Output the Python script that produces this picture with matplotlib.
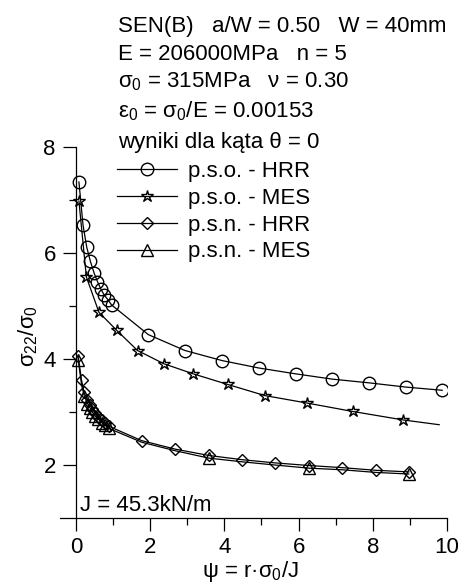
import matplotlib.pyplot as plt
from matplotlib.lines import Line2D

plt.rcParams['font.family'] = ['Liberation Sans', 'DejaVu Sans']
plt.rcParams['mathtext.default'] = 'regular'

# p.s.o. - HRR
pso_hrr_x = [0.08, 0.19, 0.29, 0.39, 0.49, 0.58, 0.67, 0.76, 0.86, 0.96,
             1.95, 2.94, 3.94, 4.93, 5.92, 6.91, 7.90, 8.89, 9.87]
pso_hrr_y = [7.34, 6.53, 6.11, 5.84, 5.62, 5.46, 5.32, 5.21, 5.12, 5.02,
             4.46, 4.16, 3.97, 3.83, 3.72, 3.62, 3.55, 3.47, 3.41]

# p.s.o. - MES (ostatni punkt bez znacznika)
pso_mes_x = [0.08, 0.28, 0.62, 1.10, 1.66, 2.37, 3.16, 4.09, 5.09, 6.22, 7.46, 8.82, 9.79]
pso_mes_y = [6.98, 5.55, 4.88, 4.54, 4.16, 3.91, 3.72, 3.52, 3.31, 3.17, 3.01, 2.85, 2.76]

# p.s.n. - HRR
psn_hrr_x = [0.06, 0.15, 0.22, 0.31, 0.38, 0.44, 0.51, 0.60, 0.69, 0.78, 0.89,
             1.77, 2.67, 3.58, 4.48, 5.36, 6.28, 7.18, 8.08, 8.97]
psn_hrr_y = [4.05, 3.60, 3.37, 3.22, 3.14, 3.06, 2.98, 2.91, 2.84, 2.79, 2.73,
             2.46, 2.30, 2.18, 2.10, 2.04, 1.99, 1.95, 1.90, 1.87]

# p.s.n. - MES
psn_mes_x = [0.06, 0.15, 0.22, 0.31, 0.38, 0.44, 0.51, 0.60, 0.69, 0.78, 0.89,
             1.77, 2.67, 3.58, 4.48, 5.36, 6.28, 7.18, 8.08, 8.97]
psn_mes_y = [3.99, 3.52, 3.31, 3.16, 3.08, 3.00, 2.93, 2.87, 2.80, 2.75, 2.69,
             2.43, 2.27, 2.13, 2.06, 2.00, 1.94, 1.91, 1.86, 1.83]
psn_mes_marks = [0, 2, 3, 4, 5, 6, 7, 8, 9, 10, 13, 16, 19]

labels = ["p.s.o. - HRR", "p.s.o. - MES", "p.s.n. - HRR", "p.s.n. - MES"]

info_lines = [
    "SEN(B)   a/W = 0.50   W = 40mm",
    "E = 206000MPa   n = 5",
    "$σ_0$ = 315MPa   ν = 0.30",
    "$ε_0$ = $σ_0$/E = 0.00153",
    "wyniki dla kąta θ = 0",
]
info_base = [32, 60, 87, 117, 148]

W, H = 463, 586
FS = 16
fig = plt.figure(figsize=(W / 100, H / 100), dpi=100)
ax = fig.add_axes([60 / W, 1 - 518 / H, 387 / W, 371 / H])

lw = 0.9
ax.plot(pso_hrr_x, pso_hrr_y, color='k', lw=lw, marker='o', ms=9, mfc='none', mew=1.0)
ax.plot(pso_mes_x, pso_mes_y, color='k', lw=lw, marker='*', ms=9, mfc='none', mew=1.0,
        markevery=list(range(len(pso_mes_x) - 1)))
ax.plot(psn_hrr_x, psn_hrr_y, color='k', lw=lw, marker='D', ms=6.5, mfc='none', mew=1.0)
ax.plot(psn_mes_x, psn_mes_y, color='k', lw=lw, marker='^', ms=8, mfc='none', mew=1.0,
        markevery=psn_mes_marks)

ax.set_xlim(-0.43, 10)
ax.set_ylim(1, 8)
ax.spines['top'].set_visible(False)
ax.spines['right'].set_visible(False)
ax.spines['left'].set_position(('data', 0))
ax.spines['left'].set_bounds(1, 8)
for s in ['left', 'bottom']:
    ax.spines[s].set_linewidth(0.9)

ax.set_xticks(range(0, 11, 2))
ax.set_xticks(range(1, 10, 2), minor=True)
ax.set_yticks([2, 4, 6, 8])
ax.set_yticks([3, 5, 7], minor=True)
ax.tick_params(which='major', direction='out', length=9.5, width=0.9, labelsize=FS)
ax.tick_params(which='minor', direction='out', length=5, width=0.9)
ax.tick_params(axis='x', pad=4.5)
ax.tick_params(axis='y', pad=5)

ax.set_xlabel("ψ = r·$σ_0$/J", fontsize=FS)
ax.set_ylabel("$σ_{22}/σ_0$", fontsize=FS)
ax.xaxis.label.set_va('center')
ax.yaxis.label.set_va('center')
ax.xaxis.set_label_coords(0.491, -0.145)
ax.yaxis.set_label_coords(-0.083, 0.49)

for txt, yy in zip(info_lines, info_base):
    fig.text(118 / W, 1 - yy / H, txt, fontsize=FS, va='baseline', ha='left')

fig.text(80 / W, 1 - 511 / H, "J = 45.3kN/m", fontsize=FS, va='baseline', ha='left')

handles = [
    Line2D([], [], color='k', lw=lw, marker='o', ms=9, mfc='none', mew=1.0),
    Line2D([], [], color='k', lw=lw, marker='*', ms=9, mfc='none', mew=1.0),
    Line2D([], [], color='k', lw=lw, marker='D', ms=6.5, mfc='none', mew=1.0),
    Line2D([], [], color='k', lw=lw, marker='^', ms=8, mfc='none', mew=1.0),
]
fig.legend(handles, labels, loc='upper left', bbox_to_anchor=(116.7 / W, 1 - 161 / H),
           frameon=False, fontsize=FS, numpoints=1, handlelength=2.7, handletextpad=0.51,
           labelspacing=0.26, borderpad=0, borderaxespad=0)

fig.savefig("out.png", dpi=100)
